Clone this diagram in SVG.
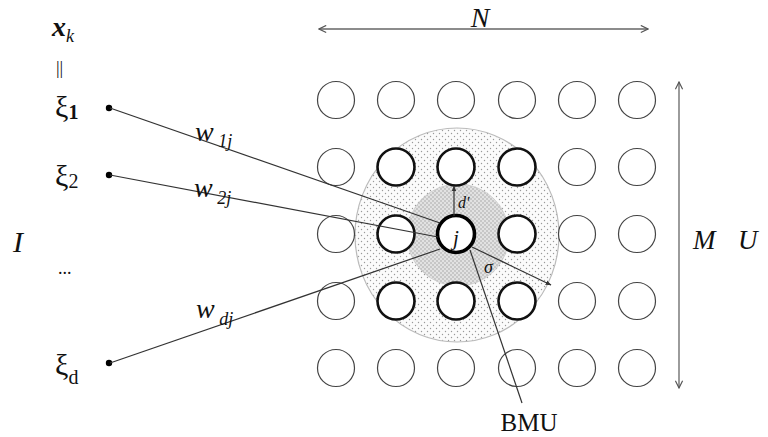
<svg xmlns="http://www.w3.org/2000/svg" width="768" height="437" viewBox="0 0 768 437">
<defs>
<style>
.t{font-family:"Liberation Serif","Times New Roman",serif;fill:#111}
.i{font-style:italic}
.n{fill:#fff;stroke:#444;stroke-width:1.2}
.b{fill:#fff;stroke:#111;stroke-width:2.6}
.bmu{fill:#fff;stroke:#000;stroke-width:3.6}
.c{stroke:#333;stroke-width:1.2;fill:none}
.dim{stroke:#666;stroke-width:1.3;fill:none}
</style>
<pattern id="p1" width="6" height="6" patternUnits="userSpaceOnUse">
<rect width="6" height="6" fill="#fbfbfb"/>
<circle cx="1.5" cy="1.5" r="0.7" fill="#999"/>
<circle cx="4.5" cy="4.5" r="0.7" fill="#999"/>
</pattern>
<pattern id="p2" width="4" height="4" patternUnits="userSpaceOnUse">
<rect width="4" height="4" fill="#e2e2e2"/>
<circle cx="1" cy="1" r="0.7" fill="#999"/>
<circle cx="3" cy="3" r="0.7" fill="#999"/>
</pattern>
<marker id="ah" viewBox="0 0 10 10" refX="9" refY="5" markerWidth="9" markerHeight="9" orient="auto-start-reverse" markerUnits="userSpaceOnUse">
<path d="M1,1 L9,5 L1,9" fill="none" stroke="#555" stroke-width="1.3"/>
</marker>
<marker id="sh" viewBox="0 0 10 10" refX="9" refY="5" markerWidth="6" markerHeight="6" orient="auto" markerUnits="userSpaceOnUse">
<path d="M0,1 L10,5 L0,9 z" fill="#333"/>
</marker>
</defs>
<rect width="768" height="437" fill="#fff"/>

<g id="neighbourhood">
<ellipse cx="457" cy="235" rx="102" ry="107" fill="url(#p1)" stroke="#bbb" stroke-width="1.2"/>
<circle cx="458" cy="235" r="51" fill="url(#p2)" stroke="#ccc" stroke-width="0.8"/>
</g>

<g id="grid">
<g id="n11"><circle class="n" cx="336" cy="100" r="18.5"/></g>
<g id="n12"><circle class="n" cx="396" cy="100" r="18.5"/></g>
<g id="n13"><circle class="n" cx="456" cy="100" r="18.5"/></g>
<g id="n14"><circle class="n" cx="517" cy="100" r="18.5"/></g>
<g id="n15"><circle class="n" cx="577" cy="100" r="18.5"/></g>
<g id="n16"><circle class="n" cx="637" cy="100" r="18.5"/></g>
<g id="n21"><circle class="n" cx="336" cy="167" r="18.5"/></g>
<g id="n22"><circle class="b" cx="396" cy="167" r="18.5"/></g>
<g id="n23"><circle class="b" cx="456" cy="167" r="18.5"/></g>
<g id="n24"><circle class="b" cx="517" cy="167" r="18.5"/></g>
<g id="n25"><circle class="n" cx="577" cy="167" r="18.5"/></g>
<g id="n26"><circle class="n" cx="637" cy="167" r="18.5"/></g>
<g id="n31"><circle class="n" cx="336" cy="234" r="18.5"/></g>
<g id="n32"><circle class="b" cx="396" cy="234" r="18.5"/></g>
<g id="n33"><circle class="bmu" cx="456" cy="234" r="18.5"/><text class="t i" x="456" y="245" font-size="21" text-anchor="middle">j</text></g>
<g id="n34"><circle class="b" cx="517" cy="234" r="18.5"/></g>
<g id="n35"><circle class="n" cx="577" cy="234" r="18.5"/></g>
<g id="n36"><circle class="n" cx="637" cy="234" r="18.5"/></g>
<g id="n41"><circle class="n" cx="336" cy="301" r="18.5"/></g>
<g id="n42"><circle class="b" cx="396" cy="301" r="18.5"/></g>
<g id="n43"><circle class="b" cx="456" cy="301" r="18.5"/></g>
<g id="n44"><circle class="b" cx="517" cy="301" r="18.5"/></g>
<g id="n45"><circle class="n" cx="577" cy="301" r="18.5"/></g>
<g id="n46"><circle class="n" cx="637" cy="301" r="18.5"/></g>
<g id="n51"><circle class="n" cx="336" cy="368" r="18.5"/></g>
<g id="n52"><circle class="n" cx="396" cy="368" r="18.5"/></g>
<g id="n53"><circle class="n" cx="456" cy="368" r="18.5"/></g>
<g id="n54"><circle class="n" cx="517" cy="368" r="18.5"/></g>
<g id="n55"><circle class="n" cx="577" cy="368" r="18.5"/></g>
<g id="n56"><circle class="n" cx="637" cy="368" r="18.5"/></g>
</g>

<g id="inputs">
<g id="xi1"><circle cx="109" cy="108" r="3.2" fill="#000"/><text class="t" x="55" y="117" font-size="30">ξ<tspan font-size="20" font-weight="bold" dy="2">1</tspan></text></g>
<g id="xi2"><circle cx="109" cy="175" r="3.2" fill="#000"/><text class="t" x="55" y="186" font-size="30">ξ<tspan font-size="20" dy="2">2</tspan></text></g>
<g id="xid"><circle cx="109" cy="363" r="3.2" fill="#000"/><text class="t" x="55" y="375" font-size="30">ξ<tspan font-size="20" dy="9">d</tspan></text></g>
</g>

<g id="connectors">
<line class="c" x1="110" y1="108" x2="440" y2="223"/>
<line class="c" x1="110" y1="175" x2="438" y2="237"/>
<line class="c" x1="110" y1="363" x2="440" y2="249"/>
<line class="c" x1="472" y1="247" x2="551" y2="285" marker-end="url(#sh)"/>
<line class="c" x1="470" y1="250" x2="522" y2="403"/>
<line class="c" x1="454" y1="216" x2="454" y2="186" marker-end="url(#sh)"/>
<line class="dim" x1="319" y1="29" x2="648" y2="29" marker-start="url(#ah)" marker-end="url(#ah)"/>
<line class="dim" x1="679" y1="82" x2="679" y2="388" marker-start="url(#ah)" marker-end="url(#ah)"/>
</g>

<g id="labels">
<text class="t i" x="52" y="36" font-size="28" font-weight="bold">x<tspan font-size="18" font-weight="normal" dy="6">k</tspan></text>
<text class="t" x="56" y="74" font-size="18" fill="#555">||</text>
<text class="t i" x="13" y="252" font-size="30">I</text>
<text class="t" x="58" y="274" font-size="18" fill="#777">...</text>
<text class="t i" x="195" y="141" font-size="28">w<tspan font-size="18" dy="6"> 1j</tspan></text>
<text class="t i" x="194" y="197" font-size="28">w<tspan font-size="18" dy="7"> 2j</tspan></text>
<text class="t i" x="196" y="318" font-size="28">w<tspan font-size="18" dy="7"> dj</tspan></text>
<text class="t i" x="458" y="208" font-size="16" fill="#555">d'</text>
<text class="t i" x="484" y="273" font-size="18" fill="#555">σ</text>
<text class="t i" x="480" y="27" font-size="28" text-anchor="middle">N</text>
<text class="t i" x="693" y="249" font-size="27">M</text>
<text class="t i" x="738" y="249" font-size="27">U</text>
<text class="t" x="529" y="431" font-size="25" text-anchor="middle">BMU</text>
</g>
</svg>
